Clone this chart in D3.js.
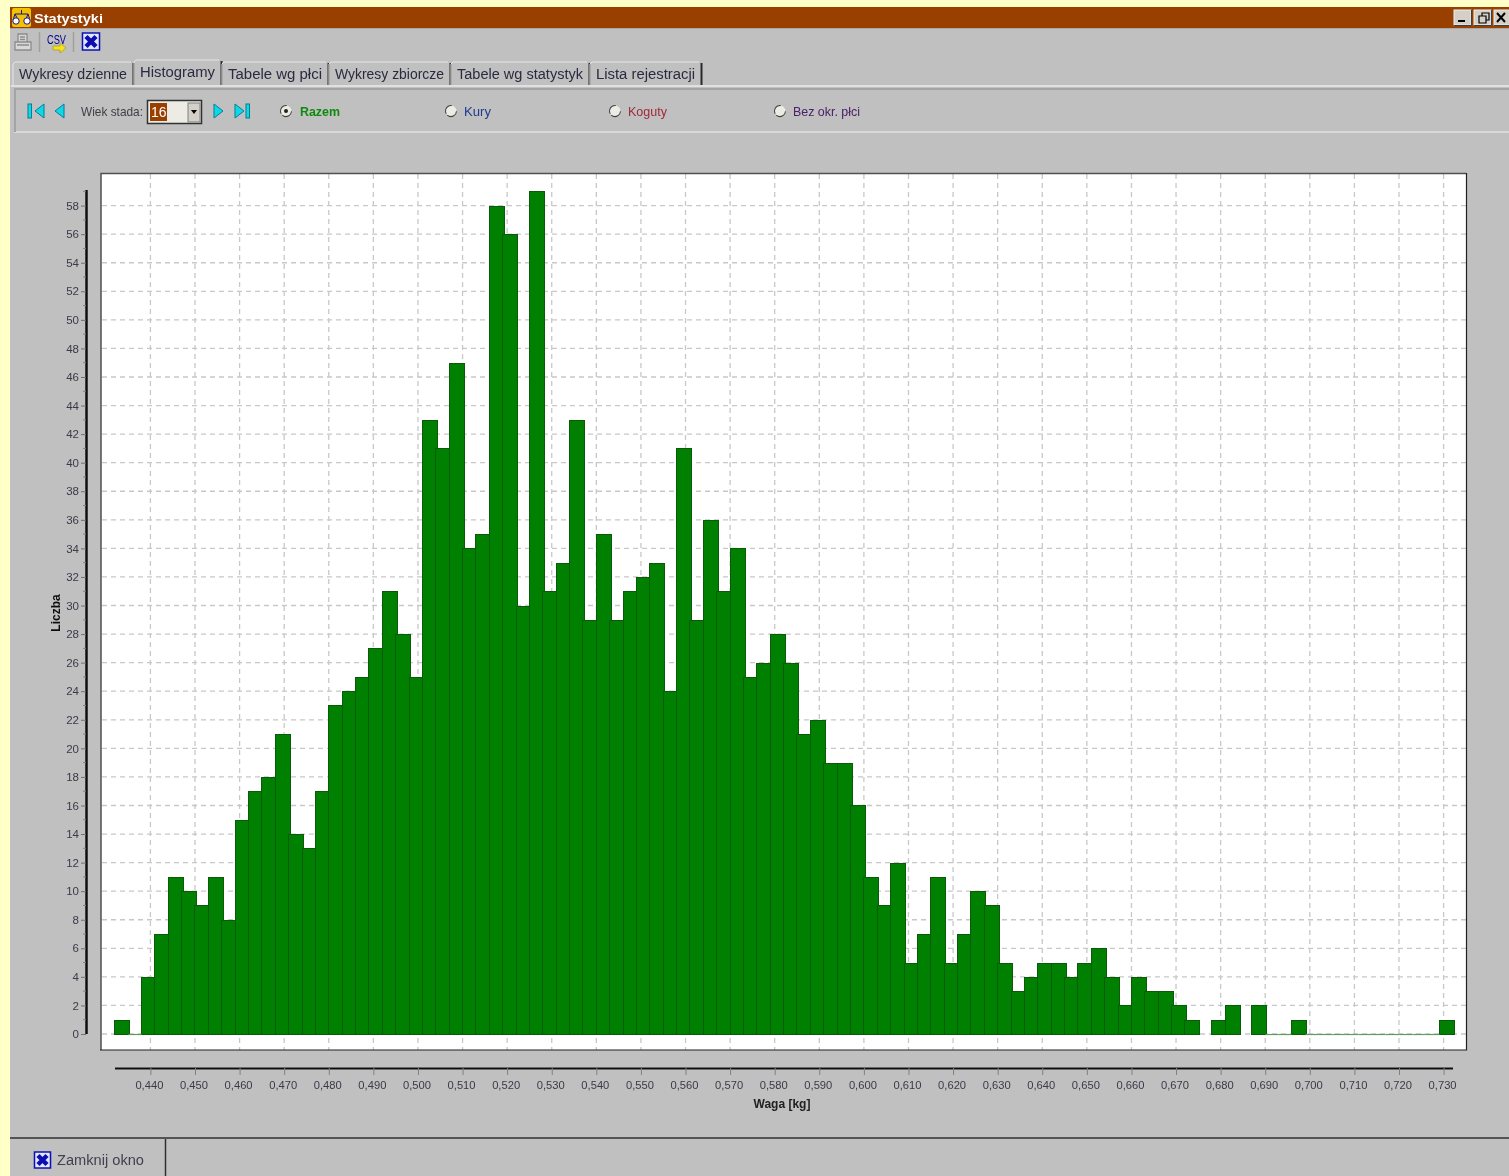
<!DOCTYPE html>
<html><head><meta charset="utf-8">
<style>html,body{margin:0;padding:0;background:#ffffc8;overflow:hidden}svg{display:block}text{font-family:"Liberation Sans",Arial,sans-serif}</style>
<script src="https://cdn.jsdelivr.net/npm/d3@7"></script></head><body>
<script>
const counts=[1,0,4,7,11,10,9,11,8,15,17,18,21,14,13,17,23,24,25,27,31,28,25,43,41,47,34,35,58,56,30,59,31,33,43,29,35,29,31,32,33,24,41,29,36,31,34,25,26,28,26,21,22,19,19,16,11,9,12,5,7,11,5,7,10,9,5,3,4,5,5,4,5,6,4,2,4,3,3,2,1,null,1,2,null,2,0,0,1,0,0,0,0,0,0,0,0,0,0,1];
const binStart=0.432, binWidth=0.003;
const xTicks=d3.range(44,74).map(d=>d/100);
const yTicks=d3.range(0,60,2);
const yMinor=d3.range(0,60,1);
const tabs=[["Wykresy dzienne",19,74,127],["Histogramy",140,72,215],["Tabele wg płci",228,74,322],["Wykresy zbiorcze",335,74,444],["Tabele wg statystyk",457,74,583],["Lista rejestracji",596,74,695]];
const radios=[["Razem",286,300,"#108a10",true],["Kury",451,464,"#203a90",false],["Koguty",615,628,"#a02a3a",false],["Bez okr. płci",780,793,"#4a2068",false]];

const W=1509,H=1176;
const svg=d3.select("body").append("svg").attr("width",W).attr("height",H);
const defs=svg.append("defs");
defs.append("filter").attr("id","soft").attr("x","-5%").attr("y","-20%").attr("width","110%").attr("height","140%").append("feGaussianBlur").attr("stdDeviation",0.45);

const x=d3.scaleLinear().domain([0.44,0.73]).range([150.4,1443.6]);
const y=d3.scaleLinear().domain([0,58]).range([1034,205.6]);

// window chrome
svg.append("rect").attr("x",10).attr("y",7).attr("width",W-10).attr("height",H-7).attr("fill","#c0c0c0");
svg.append("rect").attr("x",10).attr("y",7).attr("width",W-10).attr("height",21).attr("fill","#993f00");
svg.append("line").attr("x1",10).attr("x2",W).attr("y1",28.5).attr("y2",28.5).attr("stroke","#a8a8a8");
const ui=svg.append("g").attr("filter","url(#soft)");
ui.append("text").attr("x",34).attr("y",23).attr("font-size",13).attr("font-weight","bold").attr("fill","#fff").attr("textLength",69).attr("lengthAdjust","spacingAndGlyphs").text("Statystyki");
// title icon
const ti=ui.append("g");
ti.append("rect").attr("x",12).attr("y",8).attr("width",19).attr("height",19).attr("rx",2).attr("fill","#f2c200");
ti.append("path").attr("d","M21.5 10v4M15 14h13M15 14l-2 6M15 14l3 6M28 14l-2.500 6M28 14l2 6").attr("stroke","#12129a").attr("fill","none");
ti.append("circle").attr("cx",16).attr("cy",21).attr("r",3.200).attr("fill","#fff").attr("stroke","#12129a");
ti.append("circle").attr("cx",27).attr("cy",21).attr("r",3.200).attr("fill","#fff").attr("stroke","#12129a");
// window buttons
[[1454],[1474],[1494]].forEach(([bx],i)=>{
  ui.append("rect").attr("x",bx).attr("y",10).attr("width",i==2?18:17).attr("height",15).attr("fill","#d4d0c8").attr("stroke","#f0f0f0");
  ui.append("path").attr("d",`M${bx+17.5} 10v15.500H${bx}`).attr("stroke","#404040").attr("fill","none");
});
ui.append("rect").attr("x",1458).attr("y",20).attr("width",7).attr("height",2).attr("fill","#000");
ui.append("path").attr("d","M1479 16h7v7h-7zM1482 16v-3h7v7h-3").attr("fill","none").attr("stroke","#000").attr("stroke-width",1.200);
ui.append("path").attr("d","M1497 13l8 9M1505 13l-8 9").attr("stroke","#000").attr("stroke-width",2);
// toolbar
ui.append("path").attr("d","M18 34h9v8h-9zM15 42h16v8H15zM20 37h5M20 39.500h5M17 45h12").attr("fill","#d8d8d8").attr("stroke","#8c8c8c").attr("stroke-width",1.300);
[[39.500],[73.500]].forEach(([lx])=>ui.append("line").attr("x1",lx).attr("x2",lx).attr("y1",32).attr("y2",52).attr("stroke","#a0a0a0").attr("stroke-width",1.500));
ui.append("text").attr("x",47).attr("y",44).attr("font-size",13).attr("fill","#000090").attr("textLength",19).attr("lengthAdjust","spacingAndGlyphs").text("CSV");
ui.append("path").attr("d","M53 46h7v-3l6 5-6 5v-3h-7z").attr("fill","#f5e020").attr("stroke","#a09000").attr("stroke-width",.6);
function closeIcon(g,cx,cy,s){
  g.append("rect").attr("x",cx-s/2).attr("y",cy-s/2).attr("width",s).attr("height",s).attr("fill","#dfe8ff").attr("stroke","#1010b0").attr("stroke-width",1.500);
  g.append("path").attr("d",`M${cx-s/2+3.500} ${cy-s/2+3.500}L${cx+s/2-3.500} ${cy+s/2-3.500}M${cx+s/2-3.500} ${cy-s/2+3.500}L${cx-s/2+3.500} ${cy+s/2-3.500}`).attr("stroke","#1010b0").attr("stroke-width",4.500);
}
closeIcon(ui,91,41.500,17);
// tabs
svg.append("rect").attr("x",11).attr("y",85).attr("width",W-11).attr("height",2).attr("fill","#e0e0e0");
svg.append("rect").attr("x",14).attr("y",88).attr("width",W-14).attr("height",2).attr("fill","#a4a4a4");
svg.append("rect").attr("x",14).attr("y",131).attr("width",W-14).attr("height",2).attr("fill","#d8d8d8");
svg.append("rect").attr("x",14).attr("y",88).attr("width",2).attr("height",44).attr("fill","#a4a4a4");
const tabG=ui.append("g");
tabG.selectAll("g").data(tabs).join("g").each(function(d,i){
  const g=d3.select(this),l=d[1]-6,r=d[3]+6,active=i==1,top=active?60:62;
  g.append("path").attr("d",`M${l} 85V${top+2}l2 -2H${r-2}`).attr("fill","none").attr("stroke","#e6e6e6");
  g.append("line").attr("x1",r+.5).attr("x2",r+.5).attr("y1",top+1).attr("y2",85).attr("stroke","#2a2a2a").attr("stroke-width",2);
  g.append("text").attr("x",d[1]).attr("y",d[2]+5).attr("font-size",14).attr("fill","#2a2a40").attr("textLength",d[3]-d[1]).attr("lengthAdjust","spacingAndGlyphs").text(d[0]);
});
// nav row
const cy=111,cyan="#10d8e8",nav="#0a7a90";
function tri(g,xc,dir,bar){
  const p=dir<0?`M${xc+5} ${cy-7}V${cy+7}L${xc-4} ${cy}Z`:`M${xc-5} ${cy-7}V${cy+7}L${xc+4} ${cy}Z`;
  g.append("path").attr("d",p).attr("fill",cyan).attr("stroke",nav);
  if(bar!=null)g.append("rect").attr("x",bar).attr("y",cy-7).attr("width",3.500).attr("height",14).attr("fill",cyan).attr("stroke",nav);
}
tri(ui,39,-1,28);tri(ui,59,-1,null);tri(ui,219,1,null);tri(ui,240,1,246);
ui.append("text").attr("x",81).attr("y",116).attr("font-size",13).attr("fill","#404048").attr("textLength",62).attr("lengthAdjust","spacingAndGlyphs").text("Wiek stada:");
ui.append("rect").attr("x",147.500).attr("y",100.500).attr("width",54).attr("height",23).attr("fill","#ecece4").attr("stroke","#303030").attr("stroke-width",1.500);
ui.append("rect").attr("x",150).attr("y",103).attr("width",17).attr("height",18).attr("fill","#993f00");
ui.append("text").attr("x",151).attr("y",117).attr("font-size",14).attr("fill","#fff").text("16");
ui.append("rect").attr("x",188).attr("y",103).attr("width",12).attr("height",19).attr("fill","#d4d0c8").attr("stroke","#808080");
ui.append("path").attr("d","M191 110h6l-3 4z").attr("fill","#000");
ui.selectAll(".radio").data(radios).join("g").each(function(d){
  const g=d3.select(this);
  g.append("circle").attr("cx",d[1]).attr("cy",111).attr("r",5.500).attr("fill","#ecece4").attr("stroke","#404040").attr("stroke-dasharray","12 8").attr("transform",`rotate(150 ${d[1]} 111)`);
  if(d[4])g.append("circle").attr("cx",d[1]).attr("cy",111).attr("r",2).attr("fill","#202020");
  g.append("text").attr("x",d[2]).attr("y",116).attr("font-size",13).attr("font-weight",d[4]?"bold":"normal").attr("fill",d[3]).attr("textLength",{Razem:40,Kury:27,Koguty:39}[d[0]]||67).attr("lengthAdjust","spacingAndGlyphs").text(d[0]);
});
// bottom bar
svg.append("line").attr("x1",10).attr("x2",W).attr("y1",1138).attr("y2",1138).attr("stroke","#303030").attr("stroke-width",1.500);
svg.append("line").attr("x1",165.500).attr("x2",165.500).attr("y1",1139).attr("y2",H).attr("stroke","#303030").attr("stroke-width",1.500);
closeIcon(ui,42.500,1160,16);
ui.append("text").attr("x",57).attr("y",1165).attr("font-size",14).attr("fill","#404050").attr("textLength",87).attr("lengthAdjust","spacingAndGlyphs").text("Zamknij okno");

// plot area
svg.append("rect").attr("x",101).attr("y",173).attr("width",1365.500).attr("height",877).attr("fill","#fff");
const grid=svg.append("g").attr("stroke","#c8c8c8").attr("stroke-width",1.300).attr("stroke-dasharray","5 4");
grid.selectAll(".gv").data(xTicks).join("line").attr("x1",d=>x(d)).attr("x2",d=>x(d)).attr("y1",174).attr("y2",1050);
grid.selectAll(".gh").data(yTicks).join("line").attr("x1",102).attr("x2",1466).attr("y1",d=>y(d)).attr("y2",d=>y(d));
// bars: each bar is slightly wider than its bin and overlapped by the next one
const present=counts.map((v,i)=>({v,i})).filter(d=>d.v!==null);
const barX=i=>Math.floor(x(binStart+i*binWidth))+0.5;
svg.append("g").selectAll("rect").data(present.filter(d=>d.v>0)).join("rect")
 .attr("x",d=>barX(d.i)).attr("width",15)
 .attr("y",d=>Math.round(y(d.v))+0.5).attr("height",d=>Math.round(y(0))-Math.round(y(d.v)))
 .attr("fill","#008000").attr("stroke","#0a5a0a").attr("stroke-width",1);
svg.append("g").selectAll("line").data(present.filter(d=>d.v===0)).join("line")
 .attr("x1",d=>barX(d.i)).attr("x2",d=>barX(d.i+1))
 .attr("y1",Math.round(y(0))+0.5).attr("y2",Math.round(y(0))+0.5).attr("stroke","#5f9a5f").attr("stroke-width",1.200);
// frame
svg.append("path").attr("d","M101 1050V173.500H1466").attr("fill","none").attr("stroke","#505050").attr("stroke-width",1.500);
svg.append("path").attr("d","M1466.500 173V1050H100").attr("fill","none").attr("stroke","#202020").attr("stroke-width",1.200);
// axes
const fmt=d=>d3.format(".3f")(d).replace(".",",");
const xAxis=d3.axisBottom(x).tickValues(xTicks).tickFormat(fmt).tickSize(7).tickPadding(6);
const gx=svg.append("g").attr("transform","translate(0,1068)").attr("filter","url(#soft)").call(xAxis);
gx.select(".domain").attr("d","M115 0.500H1453").attr("stroke","#101010").attr("stroke-width",2);
gx.selectAll(".tick line").attr("stroke","#808080");
gx.selectAll("text").attr("font-size",11.500).attr("font-family","Liberation Sans").attr("fill","#3a3a48").attr("dx",-1.500).attr("textLength",28).attr("lengthAdjust","spacingAndGlyphs");
const yAxis=d3.axisLeft(y).tickValues(yTicks).tickFormat(d3.format("d")).tickSize(5).tickPadding(2);
const gy=svg.append("g").attr("transform","translate(86,0)").attr("filter","url(#soft)").call(yAxis);
gy.select(".domain").attr("d","M0.500 190V1034").attr("stroke","#101010").attr("stroke-width",2.500);
gy.selectAll(".tick line").attr("stroke","#707070");
gy.selectAll("text").attr("font-size",11.500).attr("font-family","Liberation Sans").attr("fill","#3a3a48");
svg.append("g").attr("stroke","#808080").selectAll("line").data(yMinor.filter(d=>d%2)).join("line").attr("x1",83).attr("x2",86).attr("y1",d=>y(d)).attr("y2",d=>y(d));
ui.append("text").attr("transform","translate(60,613) rotate(-90)").attr("text-anchor","middle").attr("font-size",12).attr("font-weight","bold").attr("fill","#101010").text("Liczba");
ui.append("text").attr("x",782).attr("y",1108).attr("text-anchor","middle").attr("font-size",12).attr("font-weight","bold").attr("fill","#202020").text("Waga [kg]");
</script></body></html>
